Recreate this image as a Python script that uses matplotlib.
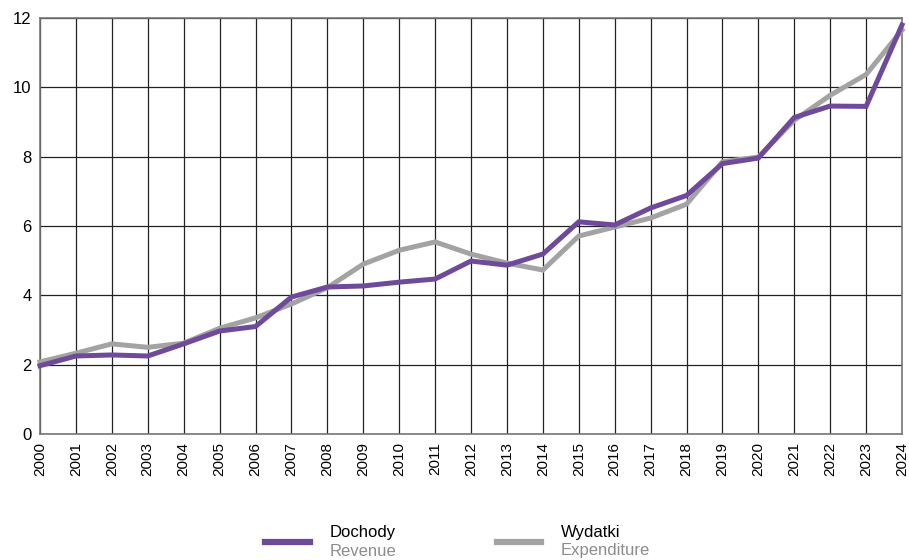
import matplotlib
matplotlib.use("Agg")
import matplotlib.pyplot as plt
from matplotlib.lines import Line2D

years = list(range(2000, 2025))
revenue = [1.97, 2.25, 2.28, 2.25, 2.6, 2.97, 3.1, 3.95, 4.24, 4.27, 4.38, 4.47, 4.99, 4.87, 5.19,
           6.12, 6.03, 6.52, 6.88, 7.8, 7.96, 9.13, 9.46, 9.45, 11.8]
expenditure = [2.08, 2.33, 2.6, 2.5, 2.62, 3.05, 3.35, 3.75, 4.22, 4.9, 5.3, 5.54, 5.19, 4.93, 4.73,
               5.71, 5.97, 6.23, 6.63, 7.85, 7.99, 9.05, 9.77, 10.37, 11.65]
yticks = [0, 2, 4, 6, 8, 10, 12]
legend_pl = ["Dochody", "Wydatki"]
legend_en = ["Revenue", "Expenditure"]

PURPLE = "#6F4A9B"
GREY = "#A3A3A3"

plt.rcParams['font.family'] = ['Liberation Sans', 'DejaVu Sans']

fig = plt.figure(figsize=(9.09, 5.6), dpi=100)
ax = fig.add_axes([40/909, 126/560, 862/909, 416/560])

ax.plot(years, expenditure, color=GREY, lw=3.6, solid_joinstyle='miter', zorder=3, clip_on=False)
ax.plot(years, revenue, color=PURPLE, lw=3.6, solid_joinstyle='miter', zorder=4, clip_on=False)

ax.set_xlim(2000, 2024)
ax.set_ylim(0, 12)
ax.set_xticks(years)
ax.set_xticklabels([str(y) for y in years], rotation=90, fontsize=11)
ax.set_yticks(yticks)
ax.set_yticklabels([str(v) for v in yticks], fontsize=12)
ax.tick_params(length=0, pad=6)
ax.grid(True, color="#222222", lw=0.9, zorder=1)
ax.set_axisbelow(True)
for s in ax.spines.values():
    s.set_color("#777777")
    s.set_linewidth(1.2)

# custom legend
handle_x = [(265, 310), (497, 541)]
for (x0, x1), pl, en, col in zip(handle_x, legend_pl, legend_en, [PURPLE, GREY]):
    fig.add_artist(Line2D([x0/909, x1/909], [1 - 542/560]*2, color=col, lw=4.5,
                          transform=fig.transFigure))
    fig.text((x1 + 20)/909, 1 - 533/560, pl, fontsize=12, color="black", va='center', ha='left')
    fig.text((x1 + 20)/909, 1 - 551/560, en, fontsize=12, color="#8C8C8C", va='center', ha='left')

fig.savefig("out.png", dpi=100)
